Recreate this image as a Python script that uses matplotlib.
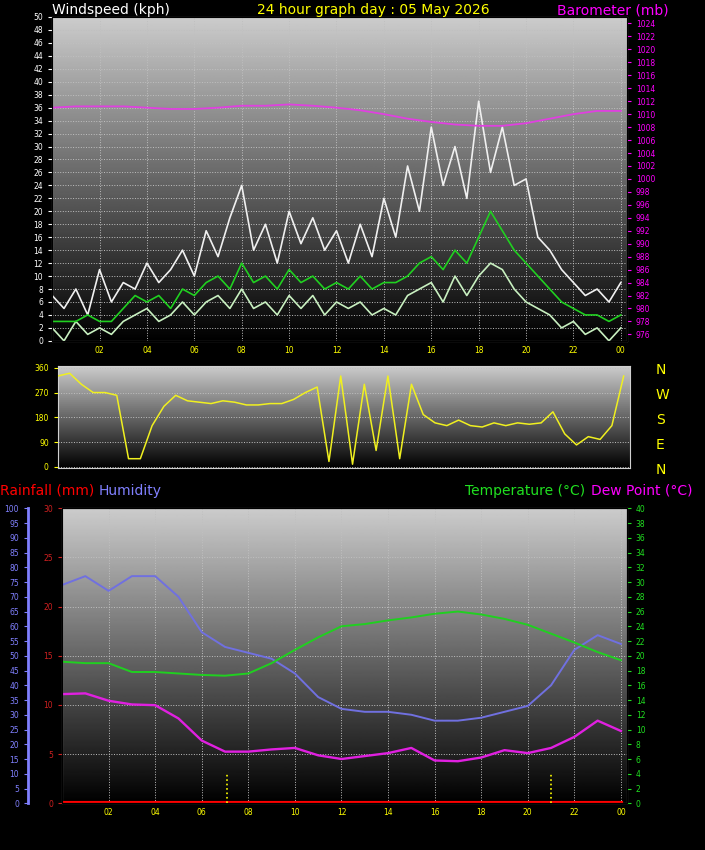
import numpy as np
import matplotlib.pyplot as plt

# half-hourly wind data (kph)
wind_hours = np.arange(0, 24.5, 0.5)
gust = [7, 5, 8, 4, 11, 6, 9, 8, 12, 9, 11, 14, 10, 17, 13, 19, 24, 14, 18, 12, 20, 15, 19, 14, 17,
        12, 18, 13, 22, 16, 27, 20, 33, 24, 30, 22, 37, 26, 33, 24, 25, 16, 14, 11, 9, 7, 8, 6, 9]
avg = [3, 3, 3, 4, 3, 3, 5, 7, 6, 7, 5, 8, 7, 9, 10, 8, 12, 9, 10, 8, 11, 9, 10, 8, 9,
       8, 10, 8, 9, 9, 10, 12, 13, 11, 14, 12, 16, 20, 17, 14, 12, 10, 8, 6, 5, 4, 4, 3, 4]
lull = [2, 0, 3, 1, 2, 1, 3, 4, 5, 3, 4, 6, 4, 6, 7, 5, 8, 5, 6, 4, 7, 5, 7, 4, 6,
        5, 6, 4, 5, 4, 7, 8, 9, 6, 10, 7, 10, 12, 11, 8, 6, 5, 4, 2, 3, 1, 2, 0, 2]
direction = [330, 340, 300, 270, 270, 260, 30, 30, 150, 220, 260, 240, 235, 230, 240, 235, 225, 225,
             230, 230, 245, 270, 290, 20, 330, 10, 300, 60, 330, 30, 300, 190, 160, 150, 170, 150,
             145, 160, 150, 160, 155, 160, 200, 120, 80, 110, 100, 150, 330]

# hourly values
hours = np.arange(0, 25)
baro = [1011, 1011.2, 1011.2, 1011.2, 1011, 1010.8, 1010.8, 1011, 1011.3, 1011.3, 1011.5, 1011.3, 1011,
        1010.6, 1010, 1009.3, 1008.8, 1008.4, 1008.2, 1008.2, 1008.6, 1009.3, 1010, 1010.5, 1010.5]
humidity = [74, 77, 72, 77, 77, 70, 58, 53, 51, 49, 44, 36, 32, 31, 31, 30, 28, 28, 29, 31, 33, 40, 52, 57, 54]
temp = [19.2, 19, 19, 17.8, 17.8, 17.6, 17.4, 17.3, 17.6, 19, 20.8, 22.5, 24, 24.3, 24.8, 25.2, 25.7, 26,
        25.6, 25, 24.2, 23, 21.8, 20.5, 19.4]
dew = [14.8, 14.9, 13.9, 13.4, 13.3, 11.5, 8.5, 7, 7, 7.3, 7.5, 6.5, 6, 6.4, 6.8, 7.5, 5.8, 5.7, 6.2, 7.2,
       6.8, 7.5, 9, 11.2, 9.8]
rain = [0] * 25
sun_times = [7.1, 21.0]

hour_ticks = np.arange(2, 25, 2)
hour_labels = ['%02d' % (h % 24) for h in hour_ticks]

fig = plt.figure(figsize=(7.05, 8.5), dpi=100, facecolor='black')
grad = np.linspace(0.8, 0.0, 256).reshape(-1, 1)


def style(ax, ylim, ylabcol, ticks):
    ax.set_facecolor('black')
    ax.imshow(grad, cmap='gray', vmin=0, vmax=1, aspect='auto',
              extent=[0, 24.25, ylim[0], ylim[1]], zorder=0)
    ax.set_xlim(0, 24.25)
    ax.set_ylim(*ylim)
    ax.set_yticks(ticks)
    ax.tick_params(axis='y', colors=ylabcol, labelsize=5.5, length=3)
    ax.grid(True, color='#c0c0c0', linestyle=':', linewidth=0.7, zorder=1)
    for s in ax.spines.values():
        s.set_color('#d0d0d0')


# wind panel
ax1 = fig.add_axes([0.074, 0.599, 0.815, 0.381])
style(ax1, (0, 50), 'white', np.arange(0, 51, 2))
ax1.set_xticks(hour_ticks)
ax1.set_xticklabels(hour_labels)
ax1.tick_params(axis='x', colors='yellow', labelsize=5.5, length=0)
ax1.plot(wind_hours, gust, color='#f0f0f0', lw=1.2, zorder=3)
ax1.plot(wind_hours, lull, color='#c8f0c0', lw=1.2, zorder=4)
ax1.plot(wind_hours, avg, color='#20d020', lw=1.2, zorder=5)
axb = ax1.twinx()
axb.set_ylim(975, 1025)
axb.set_yticks(np.arange(976, 1025, 2))
axb.tick_params(axis='y', colors='magenta', labelsize=5.5, length=3)
axb.plot(hours, baro, color='#e040e0', lw=1.3)
fig.text(0.074, 0.983, 'Windspeed (kph)', color='white', fontsize=10)
fig.text(0.365, 0.983, '24 hour graph day : 05 May 2026', color='yellow', fontsize=10)
fig.text(0.79, 0.983, 'Barometer (mb)', color='magenta', fontsize=10)

# direction panel
ax2 = fig.add_axes([0.082, 0.449, 0.811, 0.12])
style(ax2, (-5, 365), 'yellow', [0, 90, 180, 270, 360])
ax2.set_xticks([])
ax2.plot(wind_hours, direction, color='#f0f020', lw=1.1, zorder=3)
for i, lab in enumerate(['N', 'W', 'S', 'E', 'N']):
    fig.text(0.93, 0.565 - i * 0.0295, lab, color='yellow', fontsize=10, va='center')

# temperature / humidity panel
ax3 = fig.add_axes([0.088, 0.055, 0.801, 0.347])
style(ax3, (0, 30), '#d02020', np.arange(0, 31, 5))
ax3.set_xticks(hour_ticks)
ax3.set_xticklabels(hour_labels)
ax3.tick_params(axis='x', colors='yellow', labelsize=5.5, length=0)
ax3.plot(hours, rain, color='red', lw=3, zorder=6)
axh = ax3.twinx()
axh.spines['left'].set_position(('axes', -0.06))
axh.yaxis.set_ticks_position('left')
axh.spines['left'].set_color('#8080ff')
axh.spines['left'].set_linewidth(2)
axh.set_ylim(0, 100)
axh.set_yticks(np.arange(0, 101, 5))
axh.tick_params(axis='y', colors='#8080ff', labelsize=5.5, length=3)
axh.plot(hours, humidity, color='#7070e0', lw=1.4)
axt = ax3.twinx()
axt.set_ylim(0, 40)
axt.set_yticks(np.arange(0, 41, 2))
axt.tick_params(axis='y', colors='#20e020', labelsize=5.5, length=3)
axt.plot(hours, temp, color='#20d020', lw=1.4)
axt.plot(hours, dew, color='#e020e0', lw=1.7)
for t in sun_times:
    axt.plot([t, t], [0, 4], color='yellow', ls=':', lw=1.2)
fig.text(0.0, 0.418, 'Rainfall (mm)', color='red', fontsize=10)
fig.text(0.14, 0.418, 'Humidity', color='#8080ff', fontsize=10)
fig.text(0.66, 0.418, 'Temperature (°C)', color='#20e020', fontsize=10)
fig.text(0.838, 0.418, 'Dew Point (°C)', color='magenta', fontsize=10)

fig.savefig('out.png', dpi=100, facecolor='black')
